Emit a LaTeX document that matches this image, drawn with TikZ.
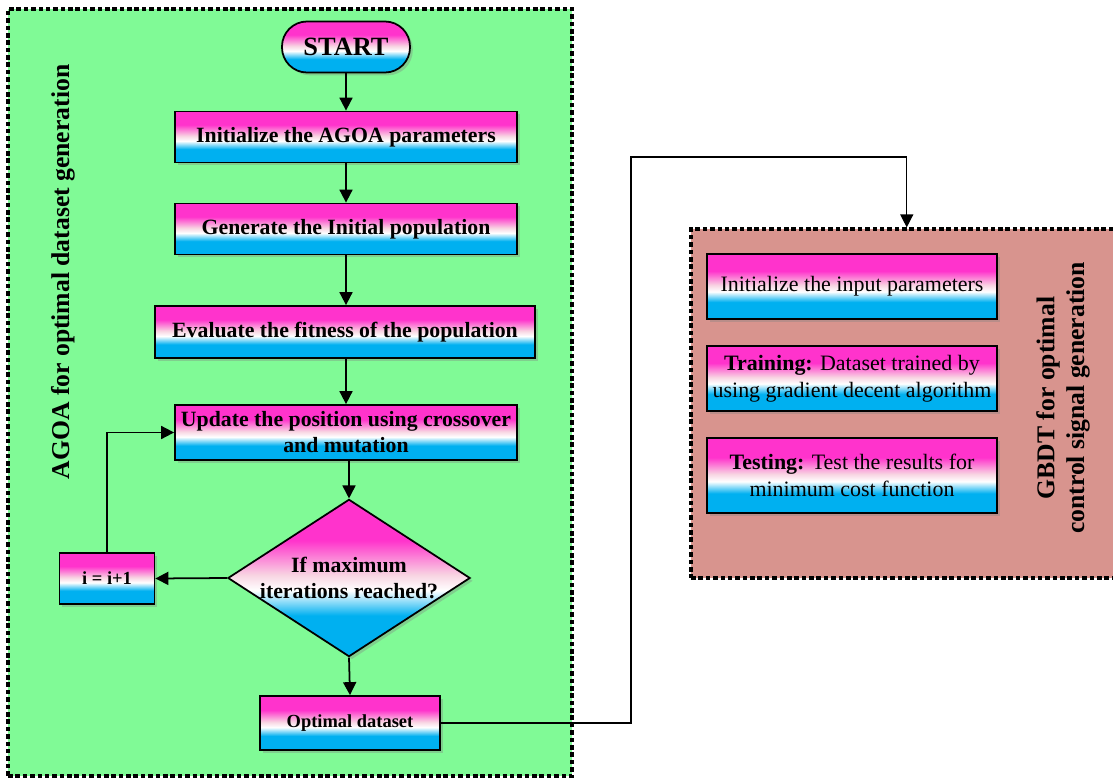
\documentclass[tikz,border=0pt]{standalone}
\usepackage{fontspec}
\setmainfont{Liberation Serif}
\usepackage{tikz}
\usetikzlibrary{positioning,arrows.meta,calc,shapes.geometric,shadows}
\definecolor{ink}{HTML}{000000}
\definecolor{cPink}{HTML}{FF33CC}
\definecolor{cPale}{HTML}{F8D4E2}
\definecolor{cCyan}{HTML}{00B0F0}
\definecolor{cGreen}{HTML}{80FA96}
\definecolor{cRose}{HTML}{D8948E}
\pgfdeclareverticalshading{pinkcyan}{100bp}{color(0bp)=(cCyan); color(38bp)=(cCyan); color(46bp)=(white); color(51bp)=(cPale); color(62bp)=(cPink); color(100bp)=(cPink)}
\tikzset{
  blk/.style   = {draw=ink, line width=1pt, shading=pinkcyan, align=center, text=ink, inner sep=2pt,
                  drop shadow={shadow xshift=1.6pt, shadow yshift=-1.6pt, opacity=0.35}},
  stp/.style   = {blk, font=\rmfamily\fontsize{12.4}{14.8}\selectfont\bfseries},
  sml/.style   = {blk, font=\rmfamily\fontsize{10.5}{12.5}\selectfont\bfseries},
  gbx/.style   = {blk, font=\rmfamily\mdseries\fontsize{12.5}{15.4}\selectfont, minimum width=5.8cm},
  pill/.style  = {stp, font=\rmfamily\fontsize{15}{17}\selectfont\bfseries, rounded corners=0.5cm,
                  minimum width=2.56cm, minimum height=1.02cm},
  dec/.style   = {stp, diamond, shape aspect=1.54, inner sep=0pt, minimum width=4.84cm, minimum height=3.14cm},
  panel/.style = {draw=ink, line width=1.8pt, dash pattern=on 2.6pt off 1.6pt},
  vlab/.style  = {rotate=90, align=center, text=ink, font=\rmfamily\fontsize{14.6}{17}\selectfont\bfseries},
  ar/.style    = {-{Triangle[length=2.6mm,width=2.6mm]}, line width=1pt, draw=ink},
  thin/.style  = {ar, line width=0.8pt},
}

\begin{document}
\begin{tikzpicture}
  \useasboundingbox (0,0) rectangle (22.26,15.58);
  % the two stages
  \node[panel, fill=cGreen, minimum width=11.28cm, minimum height=15.34cm] (agoa) at (5.8,7.73) {};
  \node[panel, fill=cRose, minimum width=8.63cm, minimum height=6.98cm] (gbdt) at (18.135,7.51) {};
  \node[vlab] (alab) at (1.26,10.14) {AGOA for optimal dataset generation};
  \node[vlab] (glab) at (21.26,7.62) {GBDT for optimal\\ control signal generation};

  \node[pill] (start) at (6.92,14.64) {START};
  \node[stp, minimum width=6.84cm, minimum height=1.02cm] (init) at (6.92,12.84) {Initialize the AGOA parameters};
  \node[stp, minimum width=6.84cm, minimum height=1.02cm] (pop) at (6.92,11.0) {Generate the Initial population};
  \node[stp, minimum width=7.6cm, minimum height=1.04cm] (fit) at (6.90,8.94) {Evaluate the fitness of the population};
  \node[stp, minimum width=6.84cm, minimum height=1.1cm] (upd) at (6.92,6.93) {Update the position using crossover\\ and mutation};
  \node[dec] (chk) at (6.98,4.02) {If maximum\\ iterations reached?};
  \node[sml, minimum width=1.9cm, minimum height=1.02cm] (inc) at (2.14,4.01) {i = i+1};
  \node[sml, minimum width=3.6cm, minimum height=1.08cm] (opt) at (7.0,1.12) {Optimal dataset};

  \draw[ar] (start) -- (init);
  \draw[ar] (init) -- (pop);
  \draw[ar] (pop) -- (pop |- fit.north);
  \draw[ar] (fit.south -| start) -- (start |- upd.north);
  \draw[ar] (upd.south -| chk) -- (chk.north);
  \draw[ar] (chk.west) -- (inc.east);
  \draw[ar] (inc.north) |- (upd.west);
  \draw[ar] (chk.south) -- (opt.north);

  \node[gbx, minimum height=1.3cm] (ipar) at (17.04,9.85) {Initialize the input parameters};
  \node[gbx, minimum height=1.3cm] (trn) at (17.04,8.01) {\textbf{Training:} Dataset trained by\\ using gradient decent algorithm};
  \node[gbx, minimum height=1.5cm] (tst) at (17.04,6.07) {\textbf{Testing:} Test the results for\\ minimum cost function};

  \coordinate (bend) at (12.62,12.44);
  \draw[thin] (opt.east) -| (bend) -| (gbdt.north);
\end{tikzpicture}
\end{document}
